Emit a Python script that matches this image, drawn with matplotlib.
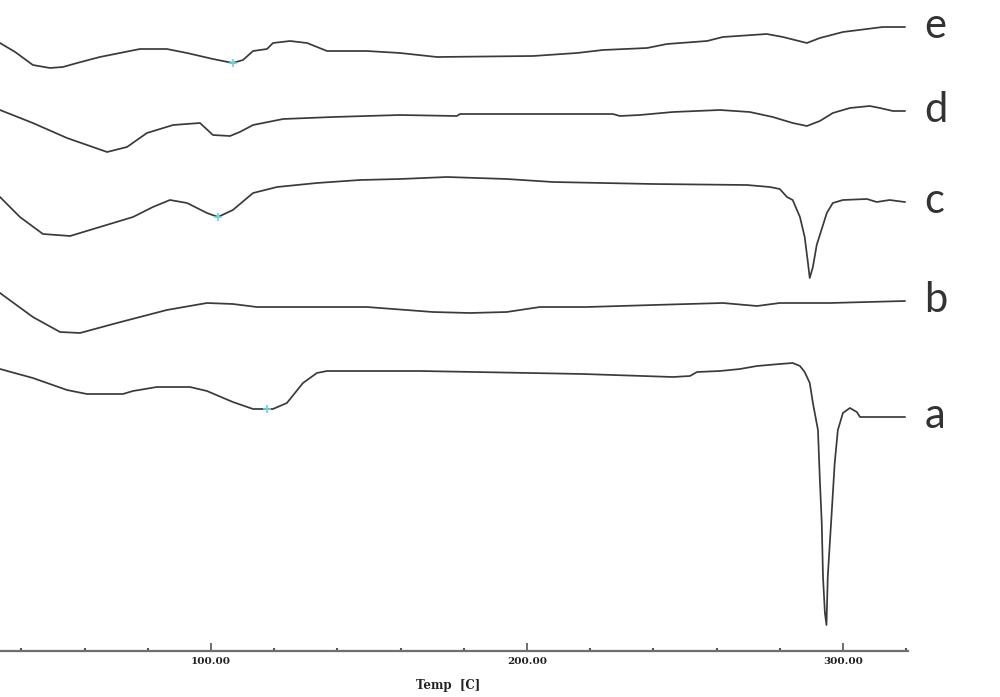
import numpy as np
import matplotlib
matplotlib.use("Agg")
import matplotlib.pyplot as plt
from matplotlib.ticker import MultipleLocator, FormatStrFormatter

# DSC traces, temperature in C, heat flow in arbitrary units
t_e = [33.2, 38.0, 43.6, 49.0, 53.1, 57.6, 64.8, 77.5, 86.0, 92.4, 100.6, 106.9, 110.1, 113.3, 117.7,
       119.6, 125.0, 130.4, 136.7, 149.3, 159.8, 171.5, 201.9, 215.8, 224.0, 238.0, 244.3, 257.0,
       262.0, 275.9, 281.0, 288.6, 292.7, 300.0, 307.6, 312.6, 319.6]
y_e = [6.08, 5.99, 5.86, 5.83, 5.84, 5.88, 5.94, 6.02, 6.02, 5.98, 5.92, 5.88, 5.91, 6.00, 6.02,
       6.08, 6.10, 6.08, 6.00, 6.00, 5.98, 5.94, 5.95, 5.98, 6.01, 6.03, 6.07, 6.10,
       6.14, 6.17, 6.14, 6.08, 6.13, 6.19, 6.22, 6.24, 6.24]

t_d = [33.2, 43.6, 54.4, 67.1, 73.4, 79.7, 88.0, 96.5, 100.6, 106.0, 109.1, 113.3, 122.8, 138.6,
       159.8, 177.8, 178.8, 227.2, 229.4, 235.7, 246.2, 261.1, 270.5, 277.8, 284.1, 288.6, 292.7,
       296.8, 302.2, 308.5, 311.7, 315.8, 319.6]
y_d = [5.41, 5.28, 5.13, 4.99, 5.04, 5.18, 5.26, 5.28, 5.16, 5.15, 5.19, 5.26, 5.32, 5.34,
       5.36, 5.35, 5.37, 5.37, 5.35, 5.36, 5.39, 5.41, 5.39, 5.34, 5.28, 5.25, 5.30,
       5.38, 5.43, 5.45, 5.43, 5.40, 5.40]

t_c = [33.2, 39.5, 46.8, 55.4, 64.8, 75.3, 81.6, 87.0, 92.4, 98.7, 102.2, 106.9, 113.3, 120.9,
       133.5, 147.1, 159.8, 174.7, 193.6, 208.2, 239.9, 269.6, 276.9, 280.0, 282.3, 284.1, 286.4,
       287.9, 288.9, 289.5, 290.5, 291.7, 292.7, 294.9, 296.8, 300.0, 307.6, 310.7, 314.8, 319.6]
y_c = [4.54, 4.34, 4.17, 4.15, 4.24, 4.34, 4.44, 4.51, 4.48, 4.38, 4.34, 4.41, 4.58, 4.64,
       4.68, 4.71, 4.72, 4.74, 4.72, 4.69, 4.67, 4.66, 4.64, 4.62, 4.54, 4.51, 4.34,
       4.14, 3.89, 3.73, 3.84, 4.06, 4.16, 4.38, 4.48, 4.51, 4.52, 4.49, 4.51, 4.49]

t_b = [33.2, 43.6, 52.2, 58.5, 70.2, 86.0, 98.7, 106.9, 114.5, 149.3, 170.2, 181.9, 193.6, 204.1,
       219.0, 239.9, 262.0, 272.8, 280.0, 295.9, 319.6]
y_b = [3.58, 3.34, 3.19, 3.18, 3.28, 3.41, 3.48, 3.47, 3.44, 3.44, 3.39, 3.38, 3.39, 3.44,
       3.44, 3.46, 3.48, 3.45, 3.48, 3.48, 3.50]

t_a = [33.2, 43.6, 54.4, 60.7, 72.1, 75.3, 82.9, 93.3, 98.7, 106.9, 113.3, 119.6, 124.0, 129.1,
       133.5, 136.7, 166.1, 200.9, 217.7, 246.2, 251.6, 253.8, 261.1, 267.4, 272.8, 280.0, 284.1,
       286.4, 287.9, 289.5, 290.5, 292.1, 292.7, 293.3, 293.7, 294.3, 294.8, 295.2, 296.5, 297.4,
       298.4, 300.0, 302.2, 304.4, 305.4, 309.5, 319.6]
y_a = [2.82, 2.73, 2.61, 2.57, 2.57, 2.60, 2.64, 2.64, 2.60, 2.49, 2.42, 2.42, 2.48, 2.68,
       2.78, 2.80, 2.80, 2.78, 2.77, 2.74, 2.75, 2.79, 2.80, 2.82, 2.85, 2.87, 2.88,
       2.85, 2.79, 2.68, 2.48, 2.21, 1.71, 1.28, 0.74, 0.38, 0.26, 0.74, 1.41, 1.88,
       2.21, 2.38, 2.43, 2.39, 2.34, 2.34, 2.34]

names = ['e', 'd', 'c', 'b', 'a']
temps = [t_e, t_d, t_c, t_b, t_a]
flows = [y_e, y_d, y_c, y_b, y_a]

# little cyan cursor marks left by the instrument software
mark_curve = ['e', 'c', 'a']
mark_temp = [106.9, 102.2, 117.7]

fig = plt.figure(figsize=(10, 6.97), dpi=100)
ax = fig.add_axes([0, 0.066, 0.908, 0.934])

for n, t, y in zip(names, temps, flows):
    ax.plot(t, y, color='#3a3a3a', lw=1.25)
    ax.text(325.8, y[-1] - 0.11, n, fontsize=30, family='Lato', color='#333333',
            ha='left', va='baseline', clip_on=False)

for n, tm in zip(mark_curve, mark_temp):
    i = names.index(n)
    ax.plot(tm, np.interp(tm, temps[i], flows[i]), marker='+', ms=6, mew=1.2,
            color='#66d6de', zorder=3)

ax.set_xlim(33.2, 320.6)
ax.set_ylim(0, 6.51)
for s in ['top', 'left', 'right']:
    ax.spines[s].set_visible(False)
ax.spines['bottom'].set_color('#6e6e6e')
ax.spines['bottom'].set_linewidth(1.6)
ax.set_yticks([])

ax.xaxis.set_major_locator(MultipleLocator(100))
ax.xaxis.set_minor_locator(MultipleLocator(20))
ax.xaxis.set_major_formatter(FormatStrFormatter('%.2f'))
ax.tick_params(axis='x', which='major', direction='in', length=6, width=1.2,
               color='#555555', pad=4, labelsize=7.5, labelcolor='#222222')
ax.tick_params(axis='x', which='minor', direction='in', length=2.5, width=1.5, color='#555555')
for lb in ax.get_xticklabels():
    lb.set_family('DejaVu Serif')
    lb.set_fontweight('bold')

ax.set_xlabel('Temp  [C]', family='DejaVu Serif', fontsize=8.5, fontweight='bold',
              color='#222222', labelpad=9)
ax.xaxis.set_label_coords(0.493, -0.043)

fig.savefig('out.png', dpi=100)
